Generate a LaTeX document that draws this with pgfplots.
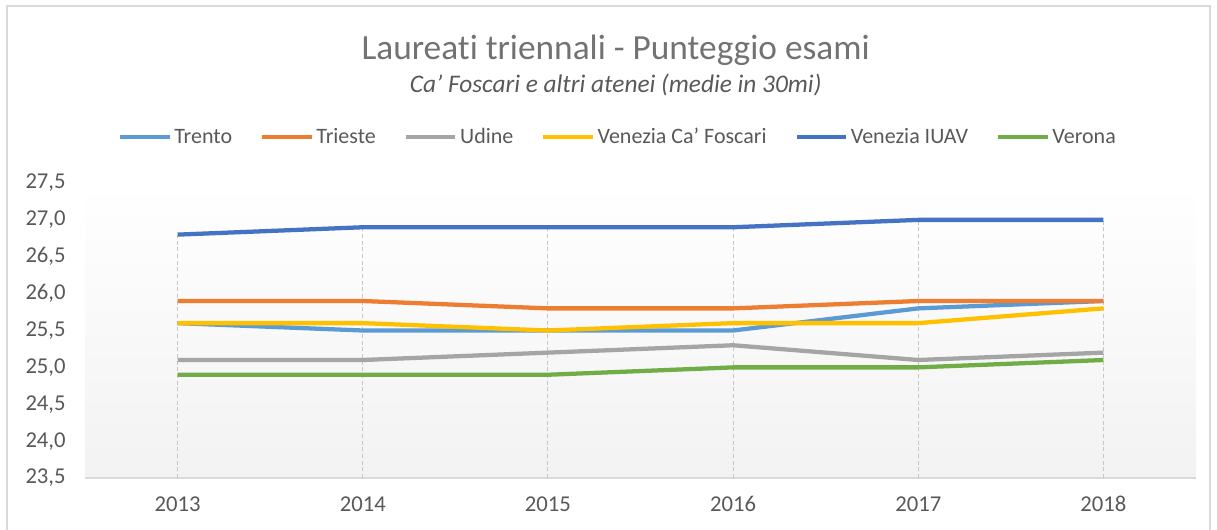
\documentclass[border=0pt]{standalone}
\usepackage{pgfplots}
\pgfplotsset{compat=1.18}
\usepackage{fontspec}
\setmainfont{Carlito}[Ligatures=NoCommon]

\definecolor{cTrento}{HTML}{5B9BD5}
\definecolor{cTrieste}{HTML}{ED7D31}
\definecolor{cUdine}{HTML}{A5A5A5}
\definecolor{cCaF}{HTML}{FFC000}
\definecolor{cIUAV}{HTML}{4472C4}
\definecolor{cVerona}{HTML}{70AD47}
\definecolor{txt}{HTML}{595959}
\definecolor{gridc}{HTML}{D9D9D9}

\begin{document}
\begin{tikzpicture}
    \useasboundingbox (-63.75pt,-38.25pt) rectangle (849pt,358.5pt);
    \draw[gridc, line width=1.5pt] (-58.5pt,-70pt) rectangle (843.75pt,354pt);
    % titolo e sottotitolo
    \node[text=txt!85, font=\fontsize{26.5}{30}\selectfont] at (398pt,321pt) {Laureati triennali - Punteggio esami};
    \node[text=txt, font=\fontsize{19}{22}\selectfont\itshape] at (398pt,294.75pt) {Ca' Foscari e altri atenei (medie in 30mi)};
    \begin{axis}[
        scale only axis,
        width=833.25pt,
        height=221.25pt,
        xmin=-0.5, xmax=5.5,
        ymin=23.5, ymax=27.5,
        xtick={0,1,2,3,4,5},
        xticklabels={2013,2014,2015,2016,2017,2018},
        ytick={23.5,24.0,24.5,25.0,25.5,26.0,26.5,27.0,27.5},
        axis x line*=bottom,
        axis y line*=left,
        x axis line style={draw=gridc, line width=1.5pt},
        y axis line style={draw=none},
        major tick length=0pt,
        tick style={draw=none},
        ticklabel style={font=\fontsize{17}{19}\selectfont, text=txt},
        yticklabel style={xshift=-11pt},
        xticklabel style={anchor=base, yshift=-25pt},
        /pgf/number format/.cd, use comma, fixed, fixed zerofill, precision=1, assume math mode=true,
        /pgfplots/.cd,
        axis background/.style={shade, top color=white, bottom color=gray!10},
        legend columns=6,
        legend style={draw=none, fill=none, at={(0.48,1.156)}, anchor=center,
            font=\fontsize{16.5}{19}\selectfont, text=txt,
            /tikz/every even column/.append style={column sep=19pt}},
        legend image code/.code={\draw[#1] (0pt,0pt) -- (37pt,0pt);},
    ]
    % drop lines
    \addplot[ycomb, draw=gray!45, densely dashed, line width=0.75pt, forget plot] coordinates {
        (0,26.8) (1,26.9) (2,26.9) (3,26.9) (4,27.0) (5,27.0)
    };
    \addplot[cTrento, line width=3.2pt, line join=round] coordinates {
        (0,25.6) (1,25.5) (2,25.5) (3,25.5) (4,25.8) (5,25.9)
    };
    \addlegendentry{Trento}
    \addplot[cTrieste, line width=3.2pt, line join=round] coordinates {
        (0,25.9) (1,25.9) (2,25.8) (3,25.8) (4,25.9) (5,25.9)
    };
    \addlegendentry{Trieste}
    \addplot[cUdine, line width=3.2pt, line join=round] coordinates {
        (0,25.1) (1,25.1) (2,25.2) (3,25.3) (4,25.1) (5,25.2)
    };
    \addlegendentry{Udine}
    \addplot[cCaF, line width=3.2pt, line join=round] coordinates {
        (0,25.6) (1,25.6) (2,25.5) (3,25.6) (4,25.6) (5,25.8)
    };
    \addlegendentry{Venezia Ca’ Foscari}
    \addplot[cIUAV, line width=3.2pt, line join=round] coordinates {
        (0,26.8) (1,26.9) (2,26.9) (3,26.9) (4,27.0) (5,27.0)
    };
    \addlegendentry{Venezia IUAV}
    \addplot[cVerona, line width=3.2pt, line join=round] coordinates {
        (0,24.9) (1,24.9) (2,24.9) (3,25.0) (4,25.0) (5,25.1)
    };
    \addlegendentry{Verona}
    \end{axis}
\end{tikzpicture}
\end{document}
